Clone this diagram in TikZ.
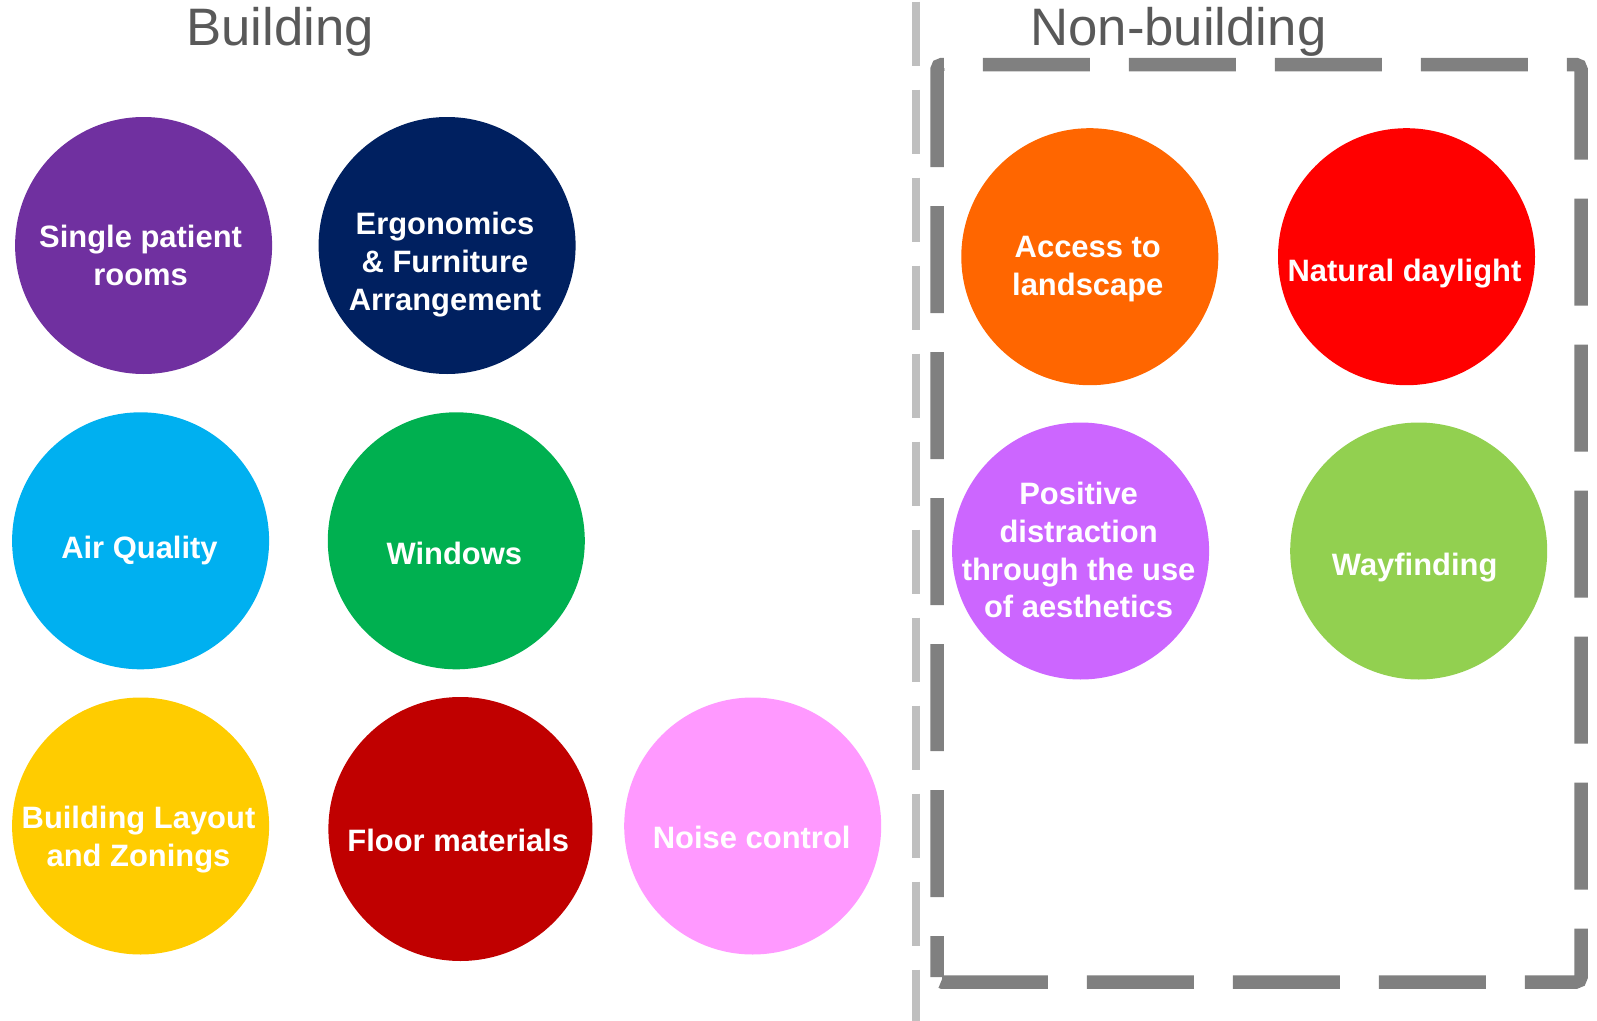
\documentclass[tikz,border=0pt]{standalone}
\usepackage{fontspec}
\setmainfont{Liberation Sans}
\definecolor{titlegray}{HTML}{595959}
\definecolor{boxgray}{HTML}{808080}
\definecolor{sepgray}{HTML}{BFBFBF}
\definecolor{cpurple}{HTML}{7030A0}
\definecolor{cnavy}{HTML}{002060}
\definecolor{csky}{HTML}{00B0F0}
\definecolor{cgreen}{HTML}{00B050}
\definecolor{cgold}{HTML}{FFCC00}
\definecolor{cdarkred}{HTML}{C00000}
\definecolor{cpink}{HTML}{FF99FF}
\definecolor{corange}{HTML}{FF6600}
\definecolor{cred}{HTML}{FF0000}
\definecolor{clilac}{HTML}{CC66FF}
\definecolor{clime}{HTML}{92D050}

\begin{document}
\begin{tikzpicture}[x=0.1mm,y=-0.1mm,
		disc/.style={circle,fill=#1,minimum size=2.57cm,inner sep=0pt},
		disctext/.style={text=white,font=\fontsize{8.8}{10.8}\selectfont\bfseries,align=center,inner sep=0pt},
		heading/.style={text=titlegray,font=\fontsize{15}{18}\selectfont,anchor=base}]
		\useasboundingbox (0,0) rectangle (1597,1021);
		
		% separator and non-building frame
		\draw[sepgray, line width=0.077cm, dash pattern=on 0.64cm off 0.24cm] (916,1.7) -- (916,1021);
		\draw[boxgray, line width=0.135cm, rounded corners=0.05cm, dash pattern=on 1.07cm off 0.39cm, dash phase=0.66cm]
			(937,982) -- (937,64.5) -- (1581,64.5) -- (1581,982) -- cycle;
		
		\node[heading] (building) at (280,45.8) {Building};
		\node[heading] (nonbuilding) at (1178.4,45.8) {Non-building};
		
		% building
		\node[disc=cpurple] (single) at (143.6,245.5) {};
		\node[disctext] (single-t) at (140.6,255.6) {Single patient\\rooms};
		\node[disc=cnavy] (ergo) at (447.1,245.5) {};
		\node[disctext] (ergo-t) at (445,265) {Ergonomics\\\& Furniture\\Arrangement};
		\node[disc=csky] (air) at (140.6,540.8) {};
		\node[disctext] (air-t) at (139.5,550) {Air Quality};
		\node[disc=cgreen] (windows) at (456.3,540.8) {};
		\node[disctext] (windows-t) at (454.3,553) {Windows};
		\node[disc=cgold] (layout) at (140.6,826) {};
		\node[disctext] (layout-t) at (138.5,839.5) {Building Layout\\and Zonings};
		\node[disc=cdarkred, minimum size=2.64cm] (floor) at (460.4,829) {};
		\node[disctext] (floor-t) at (458.3,840.3) {Floor materials};
		\node[disc=cpink] (noise) at (752.7,826) {};
		\node[disctext] (noise-t) at (751.7,837.2) {Noise control};
		
		% non-building
		\node[disc=corange] (access) at (1089.8,256.7) {};
		\node[disctext] (access-t) at (1087.8,269.3) {Access to\\landscape};
		\node[disc=cred] (daylight) at (1406.5,256.7) {};
		\node[disctext] (daylight-t) at (1404.5,273.9) {Natural daylight};
		\node[disc=clilac] (positive) at (1080.6,551) {};
		\node[disctext] (positive-t) at (1078.6,550) {Positive\\distraction\\through the use\\of aesthetics};
		\node[disc=clime] (wayfinding) at (1418.7,551) {};
		\node[disctext] (wayfinding-t) at (1414.7,567.5) {Wayfinding};
	\end{tikzpicture}
\end{document}
